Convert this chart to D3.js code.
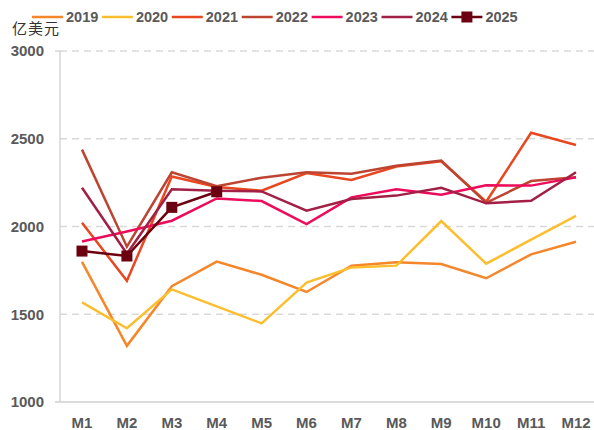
<!DOCTYPE html>
<html>
<head>
<meta charset="utf-8">
<script src="https://cdn.jsdelivr.net/npm/d3@7"></script>
<style>
  body { margin: 0; background: #fff; }
  svg text { font-family: "Liberation Sans", Arial, sans-serif; }
</style>
</head>
<body>
<div id="chart"></div>
<script>
// months and yearly series (亿美元)
var months = ['M1','M2','M3','M4','M5','M6','M7','M8','M9','M10','M11','M12'];
var years = ['2019','2020','2021','2022','2023','2024','2025'];
var v2019 = [1798, 1320, 1660, 1800, 1725, 1627, 1777, 1796, 1786, 1705, 1841, 1913];
var v2020 = [1568, 1420, 1642, 1545, 1448, 1680, 1767, 1777, 2031, 1788, 1925, 2060];
var v2021 = [2021, 1691, 2285, 2225, 2204, 2305, 2265, 2342, 2372, 2141, 2534, 2464];
var v2022 = [2438, 1885, 2309, 2230, 2278, 2309, 2300, 2346, 2376, 2135, 2259, 2280];
var v2023 = [1915, 1972, 2033, 2160, 2145, 2014, 2166, 2212, 2181, 2235, 2233, 2280];
var v2024 = [2221, 1845, 2212, 2204, 2200, 2090, 2157, 2176, 2221, 2132, 2147, 2309];
var v2025 = [1860, 1832, 2109, 2198];
var yTicks = [1000, 1500, 2000, 2500, 3000];

var series = [v2019, v2020, v2021, v2022, v2023, v2024, v2025];
var colors = ['#F5862A', '#FBBE2E', '#E8471F', '#BD4430', '#EC0C5B', '#A21F45', '#6B0011'];

function drawChart(){
    var W = 594, H = 430;
    var margin = {left: 60, right: 594, top: 51, bottom: 402};

    var svg = d3.select('#chart').append('svg')
        .attr('width', W)
        .attr('height', H);

    var x = d3.scalePoint()
        .domain(months)
        .range([82, 576]);

    var y = d3.scaleLinear()
        .domain([1000, 3000])
        .range([margin.bottom, margin.top]);

    // dashed gridlines
    svg.append('g')
        .selectAll('line')
        .data(yTicks.filter(function(d){ return d > 1000; }))
        .enter().append('line')
        .attr('x1', margin.left)
        .attr('x2', margin.right)
        .attr('y1', function(d){ return y(d); })
        .attr('y2', function(d){ return y(d); })
        .style('stroke', '#D9D9D9')
        .style('stroke-width', 1.3)
        .style('stroke-dasharray', '7,5');

    // axes lines
    svg.append('line')
        .attr('x1', margin.left).attr('x2', margin.left)
        .attr('y1', y(3000)).attr('y2', margin.bottom)
        .style('stroke', '#D0D0D0').style('stroke-width', 1.3);
    svg.append('line')
        .attr('x1', margin.left - 5).attr('x2', margin.left)
        .attr('y1', y(3000)).attr('y2', y(3000))
        .style('stroke', '#D0D0D0').style('stroke-width', 1.3);
    svg.append('line')
        .attr('x1', margin.left - 5).attr('x2', margin.right)
        .attr('y1', margin.bottom).attr('y2', margin.bottom)
        .style('stroke', '#D0D0D0').style('stroke-width', 1.3);

    // y tick labels
    svg.append('g')
        .selectAll('text')
        .data(yTicks)
        .enter().append('text')
        .text(function(d){ return d; })
        .attr('x', 44)
        .attr('y', function(d){ return y(d); })
        .attr('dy', '0.35em')
        .attr('text-anchor', 'end')
        .style('fill', '#595959')
        .style('font-weight', 'bold')
        .style('font-size', '15px');

    // x labels
    svg.append('g')
        .selectAll('text')
        .data(months)
        .enter().append('text')
        .text(function(d){ return d; })
        .attr('x', function(d){ return x(d); })
        .attr('y', 423)
        .attr('dy', '0.35em')
        .attr('text-anchor', 'middle')
        .style('fill', '#595959')
        .style('font-weight', 'bold')
        .style('font-size', '15px');

    // unit
    svg.append('text')
        .text('亿美元')
        .attr('x', 12)
        .attr('y', 34)
        .style('font-family', '"Noto Sans CJK SC", sans-serif')
        .style('fill', '#333')
        .style('letter-spacing', '1px')
        .style('font-size', '15px');

    var line = d3.line()
        .x(function(d, i){ return x(months[i]); })
        .y(function(d){ return y(d); });

    series.forEach(function(s, k){
        svg.append('path')
            .datum(s)
            .attr('d', line)
            .style('fill', 'none')
            .style('stroke', colors[k])
            .style('stroke-width', 2.5)
            .style('stroke-linejoin', 'miter');
    });

    // 2025 markers
    svg.append('g')
        .selectAll('rect')
        .data(v2025)
        .enter().append('rect')
        .attr('x', function(d, i){ return x(months[i]) - 5.5; })
        .attr('y', function(d){ return y(d) - 5.5; })
        .attr('width', 11)
        .attr('height', 11)
        .style('fill', colors[6]);

    // legend
    var leg = svg.append('g').attr('transform', 'translate(32,17)');
    var item = leg.selectAll('g')
        .data(years)
        .enter().append('g')
        .attr('transform', function(d, i){ return 'translate(' + (i * 69.9) + ',0)'; });

    item.append('line')
        .attr('x1', 0).attr('x2', 31)
        .attr('y1', 0).attr('y2', 0)
        .style('stroke', function(d, i){ return colors[i]; })
        .style('stroke-width', 2.5);

    item.filter(function(d){ return d === '2025'; })
        .append('rect')
        .attr('x', 10).attr('y', -5.5)
        .attr('width', 11).attr('height', 11)
        .style('fill', colors[6]);

    item.append('text')
        .text(function(d){ return d; })
        .attr('x', 34)
        .attr('y', 0)
        .attr('dy', '0.35em')
        .style('fill', '#595959')
        .style('font-weight', 'bold')
        .style('font-size', '14.5px');
}

drawChart();
</script>
</body>
</html>
